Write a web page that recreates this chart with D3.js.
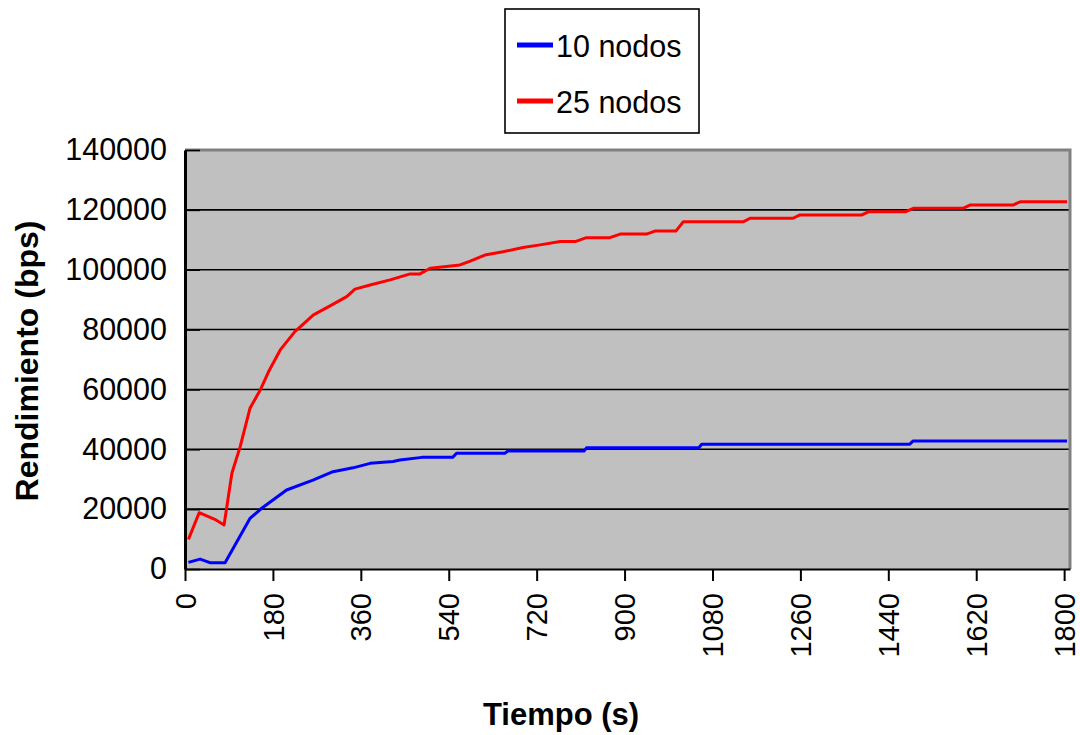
<!DOCTYPE html>
<html>
<head>
<meta charset="utf-8">
<script src="https://cdn.jsdelivr.net/npm/d3@7"></script>
<style>
  body { margin: 0; background: #fff; }
  text { font-family: "Liberation Sans", Arial, sans-serif; fill: #000; }
</style>
</head>
<body>
<div id="graphic"></div>
<script>
// values (time in s, throughput in bps)
const tiempo10 = [7, 31, 51, 82, 133, 157, 208, 262, 303, 344, 379, 426, 440, 485, 548, 556, 655, 661, 817, 822, 1052, 1058, 1484, 1491, 1806]
const nodos10 = [2200, 3300, 2100, 2100, 16900, 20300, 26400, 29700, 32500, 33800, 35300, 35900, 36400, 37300, 37300, 38700, 38700, 39400, 39400, 40500, 40500, 41700, 41700, 42800, 42800]

const tiempo25 = [7, 29, 61, 80, 96, 113, 133, 154, 171, 195, 225, 263, 297, 331, 348, 379, 420, 461, 481, 502, 563, 584, 614, 651, 692, 727, 768, 799, 822, 870, 891, 945, 962, 1005, 1020, 1143, 1157, 1245, 1259, 1386, 1400, 1476, 1491, 1593, 1607, 1695, 1710, 1806]
const nodos25 = [9900, 18800, 16600, 14700, 32000, 40900, 53700, 59800, 65900, 73200, 79300, 84900, 87900, 91000, 93500, 94900, 96600, 98600, 98600, 100500, 101600, 102900, 104900, 106000, 107400, 108300, 109400, 109400, 110700, 110700, 111900, 111900, 112900, 112900, 116000, 116000, 117200, 117200, 118300, 118300, 119400, 119400, 120500, 120500, 121600, 121600, 122700, 122700]

const seriesNames = ["10 nodos", "25 nodos"]
const seriesColors = ["#0000FF", "#FF0000"]
const xTicks = [0, 180, 360, 540, 720, 900, 1080, 1260, 1440, 1620, 1800]
const yTicks = [0, 20000, 40000, 60000, 80000, 100000, 120000, 140000]

const margin = { top: 150, right: 10, bottom: 166, left: 185 }
const chartWidth = 1080
const chartHeight = 735
const width = chartWidth - margin.left - margin.right
const height = chartHeight - margin.top - margin.bottom

let x = d3.scaleLinear()
    .domain([0, 1812])
    .range([0, width])

let y = d3.scaleLinear()
    .domain([0, 140000])
    .range([height, 0])

let root = d3.select("#graphic").append("svg")
    .attr("width", chartWidth)
    .attr("height", chartHeight)

let svg = root.append("g")
    .attr("transform", "translate(" + margin.left + "," + margin.top + ")")

// plot background
svg.append("rect")
    .attr("x", 0)
    .attr("y", 0)
    .attr("width", width)
    .attr("height", height)
    .attr("fill", "#C0C0C0")

// gridlines
svg.selectAll(null)
    .data(yTicks.filter(d => d > 0 && d < 140000))
    .enter().append("line")
    .attr("x1", 0)
    .attr("x2", width)
    .attr("y1", d => y(d))
    .attr("y2", d => y(d))
    .attr("stroke", "#000")
    .attr("stroke-width", 1.6)

// gray frame top / right
svg.append("path")
    .attr("d", "M0," + y(140000) + "H" + width + "V" + height)
    .attr("fill", "none")
    .attr("stroke", "#808080")
    .attr("stroke-width", 3)

// y axis
let yAxis = svg.append("g")
    .call(d3.axisLeft(y).tickValues(yTicks).tickSizeInner(-15).tickSizeOuter(0).tickPadding(18)
        .tickFormat(d3.format("d")))
yAxis.select(".domain").attr("stroke", "#000").attr("stroke-width", 3)
yAxis.selectAll(".tick line").attr("stroke", "#000").attr("stroke-width", 1.6)
yAxis.selectAll("text")
    .style("font-size", "30.5px")
    .attr("fill", "#000")

// x axis
let xAxis = svg.append("g")
    .attr("transform", "translate(0," + height + ")")
    .call(d3.axisBottom(x).tickValues(xTicks).tickSizeInner(12).tickSizeOuter(0)
        .tickFormat(d3.format("d")))
xAxis.select(".domain").attr("stroke", "#000").attr("stroke-width", 2)
xAxis.selectAll(".tick line").attr("stroke", "#000").attr("stroke-width", 2)
xAxis.selectAll("text")
    .attr("transform", "rotate(-90)")
    .attr("text-anchor", "end")
    .attr("x", -24)
    .attr("y", 0)
    .attr("dy", "0.35em")
    .style("font-size", "29px")
    .attr("fill", "#000")

// series
const series = [
    d3.zip(tiempo10, nodos10),
    d3.zip(tiempo25, nodos25)
]

let line = d3.line()
    .x(d => x(d[0]))
    .y(d => y(d[1]))

svg.selectAll(null)
    .data(series)
    .enter().append("path")
    .attr("d", line)
    .attr("fill", "none")
    .attr("stroke", (d, i) => seriesColors[i])
    .attr("stroke-width", 3)
    .attr("stroke-linejoin", "round")

// axis titles
root.append("text")
    .attr("transform", "translate(38,361) rotate(-90)")
    .attr("text-anchor", "middle")
    .style("font-size", "32px")
    .style("font-weight", "bold")
    .text("Rendimiento (bps)")

root.append("text")
    .attr("x", 561)
    .attr("y", 725)
    .attr("text-anchor", "middle")
    .style("font-size", "31px")
    .style("font-weight", "bold")
    .text("Tiempo (s)")

// legend
let legend = root.append("g")
legend.append("rect")
    .attr("x", 505)
    .attr("y", 9)
    .attr("width", 194)
    .attr("height", 124)
    .attr("fill", "#fff")
    .attr("stroke", "#000")
    .attr("stroke-width", 1.6)

let items = legend.selectAll(null)
    .data(seriesNames)
    .enter().append("g")
    .attr("transform", (d, i) => "translate(0," + (i * 56) + ")")

items.append("line")
    .attr("x1", 517)
    .attr("x2", 553)
    .attr("y1", 45)
    .attr("y2", 45)
    .attr("stroke", (d, i) => seriesColors[i])
    .attr("stroke-width", 5)

items.append("text")
    .attr("x", 556)
    .attr("y", 57)
    .style("font-size", "30.5px")
    .text(d => d)
</script>
</body>
</html>
